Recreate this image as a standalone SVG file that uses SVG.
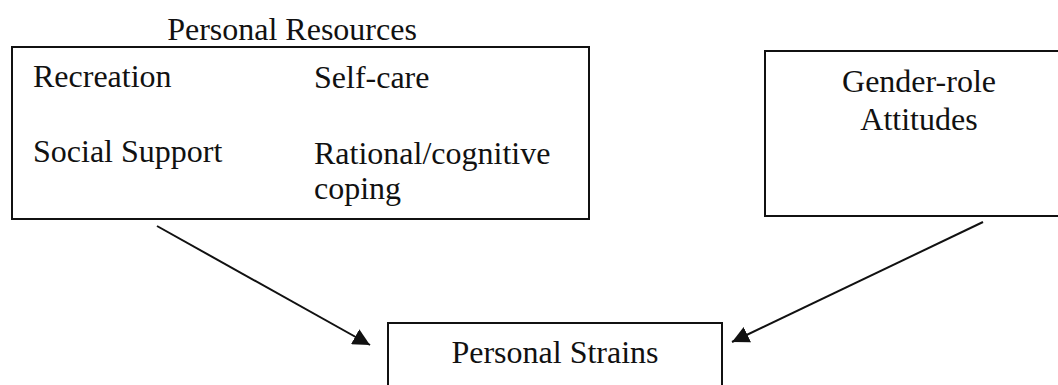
<svg xmlns="http://www.w3.org/2000/svg" width="1058" height="385" viewBox="0 0 1058 385">
<style>
.box{fill:none;stroke:#111;stroke-width:2}
.t{font-family:"Liberation Serif","Times New Roman",serif;font-size:32px;fill:#111}
.c{text-anchor:middle}
.conn{stroke:#111;stroke-width:2;fill:none}
</style>
<defs>
<marker id="ah" viewBox="0 0 17 17" refX="17" refY="8.5" markerWidth="17" markerHeight="17" orient="auto" markerUnits="userSpaceOnUse">
<path d="M0,0 L17,8.5 L0,17 Z" fill="#111"/>
</marker>
</defs>
<rect width="1058" height="385" fill="#fff"/>
<g id="personal-resources">
<text class="t c" x="292" y="40">Personal Resources</text>
<rect class="box" x="12" y="47" width="577" height="172"/>
<text class="t" x="33" y="87">Recreation</text>
<text class="t" x="314" y="88">Self-care</text>
<text class="t" x="33" y="162">Social Support</text>
<text class="t" x="314" y="164">Rational/cognitive</text>
<text class="t" x="314" y="199">coping</text>
</g>
<g id="gender-role">
<rect class="box" x="765" y="51" width="308" height="165"/>
<text class="t c" x="919" y="92">Gender-role</text>
<text class="t c" x="919" y="130">Attitudes</text>
</g>
<g id="personal-strains">
<rect class="box" x="388" y="323" width="334" height="90"/>
<text class="t c" x="555" y="363">Personal Strains</text>
</g>
<g id="connectors">
<line class="conn" x1="157" y1="226" x2="370" y2="345" marker-end="url(#ah)"/>
<line class="conn" x1="983" y1="222" x2="732" y2="342" marker-end="url(#ah)"/>
</g>
</svg>
